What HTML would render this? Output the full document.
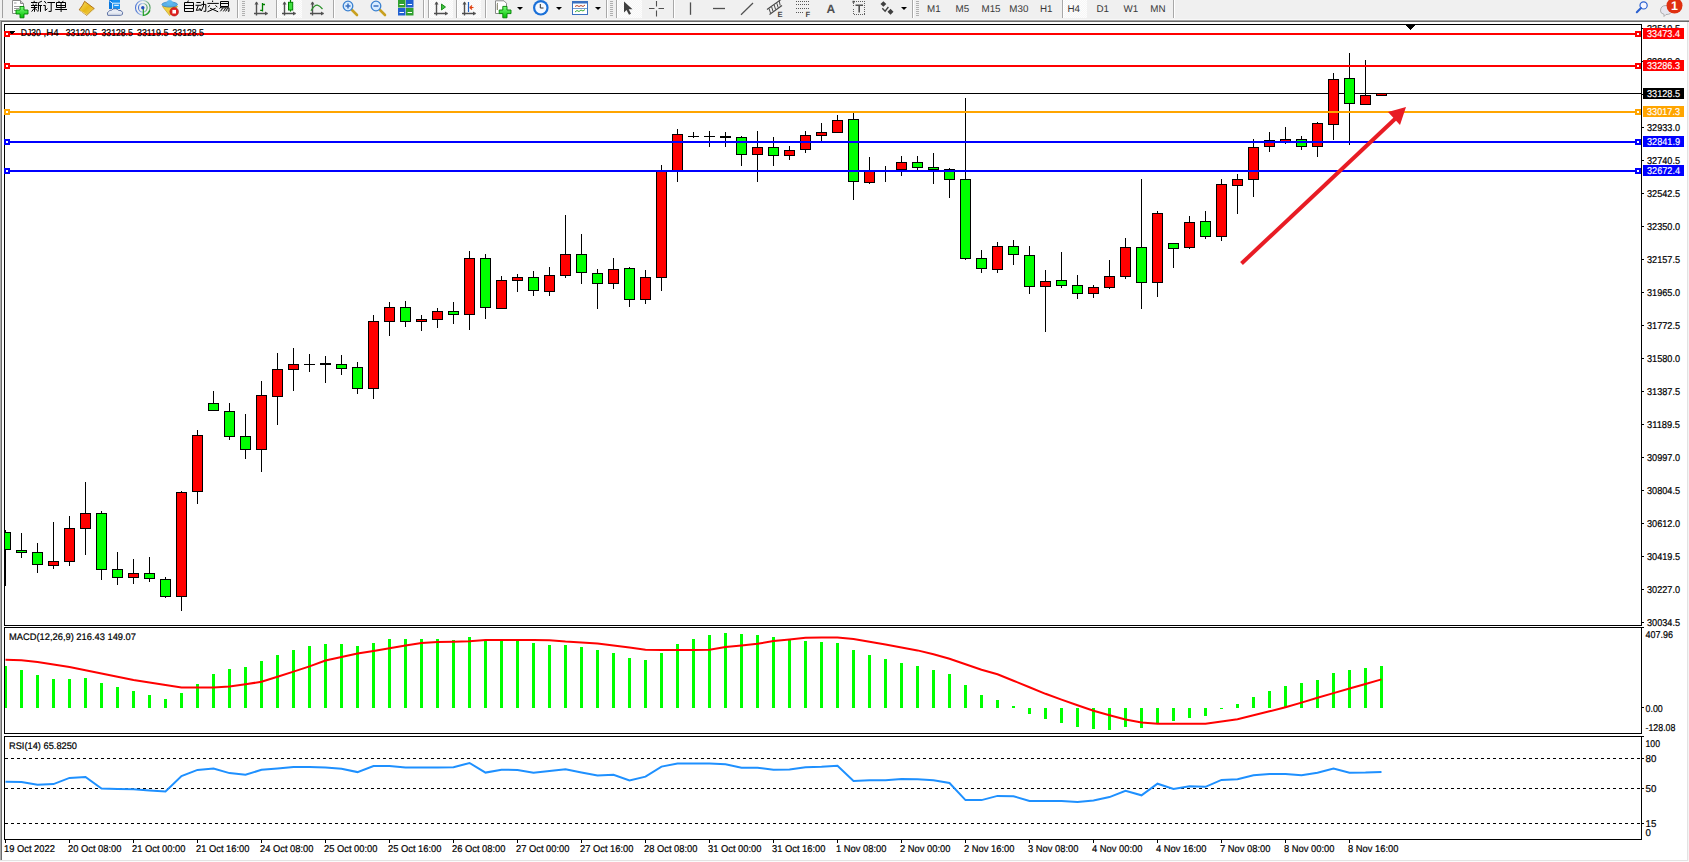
<!DOCTYPE html>
<html><head><meta charset="utf-8"><style>
html,body{margin:0;padding:0;background:#fff;}
body{width:1689px;height:862px;overflow:hidden;position:relative;font-family:"Liberation Sans",sans-serif;}
svg{position:absolute;left:0;top:0;display:block;}
text{text-rendering:geometricPrecision;}
.ch text{stroke:#000;stroke-width:0.2px;}
.ch text[fill="#fff"]{stroke:#fff;stroke-width:0.15px;}
</style></head><body>
<svg class="ch" width="1689" height="862" viewBox="0 0 1689 862" shape-rendering="crispEdges">
<defs>
<clipPath id="cm"><rect x="5" y="25" width="1636" height="600"/></clipPath>
<clipPath id="cd"><rect x="5" y="628" width="1636" height="105"/></clipPath>
<clipPath id="cr"><rect x="5" y="737" width="1636" height="102"/></clipPath>
</defs>
<!-- frame -->
<rect x="0" y="0" width="1689" height="862" fill="#fff"/>
<rect x="0" y="22" width="1" height="838" fill="#acacac"/>
<rect x="1" y="22" width="1" height="838" fill="#6c6c6c"/>
<rect x="1687" y="22" width="1" height="839" fill="#e3e3e3"/>
<rect x="1688" y="22" width="1" height="839" fill="#f4f4f4"/>
<rect x="0" y="860" width="1688" height="1" fill="#e3e3e3"/>
<rect x="0" y="861" width="1689" height="1" fill="#fbfbfb"/>
<!-- main window border -->
<rect x="4.5" y="24.5" width="1637" height="601" fill="none" stroke="#000"/>
<rect x="4.5" y="627.5" width="1637" height="106" fill="none" stroke="#000"/>
<rect x="4.5" y="736.5" width="1637" height="102.5" fill="none" stroke="#000"/>
<g clip-path="url(#cm)">
<rect x="5" y="93" width="1636" height="1" fill="#000"/>
<rect x="5" y="530" width="1" height="2" fill="#000"/>
<rect x="5" y="550" width="1" height="36" fill="#000"/>
<rect x="0.5" y="532.5" width="10" height="17" fill="#00ff00" stroke="#000" stroke-width="1"/>
<rect x="21" y="533" width="1" height="17" fill="#000"/>
<rect x="21" y="553" width="1" height="5" fill="#000"/>
<rect x="16.5" y="550.5" width="10" height="2" fill="#00ff00" stroke="#000" stroke-width="1"/>
<rect x="37" y="543" width="1" height="9" fill="#000"/>
<rect x="37" y="565" width="1" height="8" fill="#000"/>
<rect x="32.5" y="552.5" width="10" height="12" fill="#00ff00" stroke="#000" stroke-width="1"/>
<rect x="53" y="522" width="1" height="39" fill="#000"/>
<rect x="53" y="566" width="1" height="3" fill="#000"/>
<rect x="48.5" y="561.5" width="10" height="4" fill="#ff0000" stroke="#000" stroke-width="1"/>
<rect x="69" y="516" width="1" height="12" fill="#000"/>
<rect x="69" y="562" width="1" height="4" fill="#000"/>
<rect x="64.5" y="528.5" width="10" height="33" fill="#ff0000" stroke="#000" stroke-width="1"/>
<rect x="85" y="482" width="1" height="31" fill="#000"/>
<rect x="85" y="529" width="1" height="26" fill="#000"/>
<rect x="80.5" y="513.5" width="10" height="15" fill="#ff0000" stroke="#000" stroke-width="1"/>
<rect x="101" y="511" width="1" height="2" fill="#000"/>
<rect x="101" y="570" width="1" height="10" fill="#000"/>
<rect x="96.5" y="513.5" width="10" height="56" fill="#00ff00" stroke="#000" stroke-width="1"/>
<rect x="117" y="552" width="1" height="17" fill="#000"/>
<rect x="117" y="578" width="1" height="7" fill="#000"/>
<rect x="112.5" y="569.5" width="10" height="8" fill="#00ff00" stroke="#000" stroke-width="1"/>
<rect x="133" y="559" width="1" height="14" fill="#000"/>
<rect x="133" y="578" width="1" height="6" fill="#000"/>
<rect x="128.5" y="573.5" width="10" height="4" fill="#ff0000" stroke="#000" stroke-width="1"/>
<rect x="149" y="557" width="1" height="16" fill="#000"/>
<rect x="149" y="579" width="1" height="3" fill="#000"/>
<rect x="144.5" y="573.5" width="10" height="5" fill="#00ff00" stroke="#000" stroke-width="1"/>
<rect x="165" y="577" width="1" height="2" fill="#000"/>
<rect x="165" y="597" width="1" height="1" fill="#000"/>
<rect x="160.5" y="579.5" width="10" height="17" fill="#00ff00" stroke="#000" stroke-width="1"/>
<rect x="181" y="491" width="1" height="1" fill="#000"/>
<rect x="181" y="597" width="1" height="14" fill="#000"/>
<rect x="176.5" y="492.5" width="10" height="104" fill="#ff0000" stroke="#000" stroke-width="1"/>
<rect x="197" y="430" width="1" height="5" fill="#000"/>
<rect x="197" y="492" width="1" height="12" fill="#000"/>
<rect x="192.5" y="435.5" width="10" height="56" fill="#ff0000" stroke="#000" stroke-width="1"/>
<rect x="213" y="391" width="1" height="12" fill="#000"/>
<rect x="208.5" y="403.5" width="10" height="7" fill="#00ff00" stroke="#000" stroke-width="1"/>
<rect x="229" y="403" width="1" height="8" fill="#000"/>
<rect x="229" y="437" width="1" height="3" fill="#000"/>
<rect x="224.5" y="411.5" width="10" height="25" fill="#00ff00" stroke="#000" stroke-width="1"/>
<rect x="245" y="414" width="1" height="22" fill="#000"/>
<rect x="245" y="450" width="1" height="9" fill="#000"/>
<rect x="240.5" y="436.5" width="10" height="13" fill="#00ff00" stroke="#000" stroke-width="1"/>
<rect x="261" y="381" width="1" height="14" fill="#000"/>
<rect x="261" y="450" width="1" height="22" fill="#000"/>
<rect x="256.5" y="395.5" width="10" height="54" fill="#ff0000" stroke="#000" stroke-width="1"/>
<rect x="277" y="353" width="1" height="16" fill="#000"/>
<rect x="277" y="397" width="1" height="28" fill="#000"/>
<rect x="272.5" y="369.5" width="10" height="27" fill="#ff0000" stroke="#000" stroke-width="1"/>
<rect x="293" y="348" width="1" height="16" fill="#000"/>
<rect x="293" y="370" width="1" height="21" fill="#000"/>
<rect x="288.5" y="364.5" width="10" height="5" fill="#ff0000" stroke="#000" stroke-width="1"/>
<rect x="309" y="354" width="1" height="10" fill="#000"/>
<rect x="309" y="365" width="1" height="7" fill="#000"/>
<rect x="304" y="364" width="11" height="1" fill="#000"/>
<rect x="325" y="356" width="1" height="7" fill="#000"/>
<rect x="325" y="365" width="1" height="18" fill="#000"/>
<rect x="320" y="363" width="11" height="2" fill="#000"/>
<rect x="341" y="355" width="1" height="9" fill="#000"/>
<rect x="341" y="369" width="1" height="6" fill="#000"/>
<rect x="336.5" y="364.5" width="10" height="4" fill="#00ff00" stroke="#000" stroke-width="1"/>
<rect x="357" y="362" width="1" height="5" fill="#000"/>
<rect x="357" y="389" width="1" height="5" fill="#000"/>
<rect x="352.5" y="367.5" width="10" height="21" fill="#00ff00" stroke="#000" stroke-width="1"/>
<rect x="373" y="315" width="1" height="6" fill="#000"/>
<rect x="373" y="389" width="1" height="10" fill="#000"/>
<rect x="368.5" y="321.5" width="10" height="67" fill="#ff0000" stroke="#000" stroke-width="1"/>
<rect x="389" y="302" width="1" height="5" fill="#000"/>
<rect x="389" y="322" width="1" height="14" fill="#000"/>
<rect x="384.5" y="307.5" width="10" height="14" fill="#ff0000" stroke="#000" stroke-width="1"/>
<rect x="405" y="301" width="1" height="6" fill="#000"/>
<rect x="405" y="322" width="1" height="5" fill="#000"/>
<rect x="400.5" y="307.5" width="10" height="14" fill="#00ff00" stroke="#000" stroke-width="1"/>
<rect x="421" y="315" width="1" height="4" fill="#000"/>
<rect x="421" y="322" width="1" height="9" fill="#000"/>
<rect x="416.5" y="319.5" width="10" height="2" fill="#ff0000" stroke="#000" stroke-width="1"/>
<rect x="437" y="308" width="1" height="3" fill="#000"/>
<rect x="437" y="320" width="1" height="8" fill="#000"/>
<rect x="432.5" y="311.5" width="10" height="8" fill="#ff0000" stroke="#000" stroke-width="1"/>
<rect x="453" y="302" width="1" height="9" fill="#000"/>
<rect x="453" y="315" width="1" height="9" fill="#000"/>
<rect x="448.5" y="311.5" width="10" height="3" fill="#00ff00" stroke="#000" stroke-width="1"/>
<rect x="469" y="251" width="1" height="7" fill="#000"/>
<rect x="469" y="315" width="1" height="15" fill="#000"/>
<rect x="464.5" y="258.5" width="10" height="56" fill="#ff0000" stroke="#000" stroke-width="1"/>
<rect x="485" y="254" width="1" height="4" fill="#000"/>
<rect x="485" y="308" width="1" height="11" fill="#000"/>
<rect x="480.5" y="258.5" width="10" height="49" fill="#00ff00" stroke="#000" stroke-width="1"/>
<rect x="501" y="276" width="1" height="4" fill="#000"/>
<rect x="496.5" y="280.5" width="10" height="28" fill="#ff0000" stroke="#000" stroke-width="1"/>
<rect x="517" y="274" width="1" height="3" fill="#000"/>
<rect x="517" y="281" width="1" height="11" fill="#000"/>
<rect x="512.5" y="277.5" width="10" height="3" fill="#ff0000" stroke="#000" stroke-width="1"/>
<rect x="533" y="271" width="1" height="6" fill="#000"/>
<rect x="533" y="291" width="1" height="5" fill="#000"/>
<rect x="528.5" y="277.5" width="10" height="13" fill="#00ff00" stroke="#000" stroke-width="1"/>
<rect x="549" y="267" width="1" height="8" fill="#000"/>
<rect x="549" y="292" width="1" height="4" fill="#000"/>
<rect x="544.5" y="275.5" width="10" height="16" fill="#ff0000" stroke="#000" stroke-width="1"/>
<rect x="565" y="215" width="1" height="39" fill="#000"/>
<rect x="565" y="276" width="1" height="2" fill="#000"/>
<rect x="560.5" y="254.5" width="10" height="21" fill="#ff0000" stroke="#000" stroke-width="1"/>
<rect x="581" y="234" width="1" height="20" fill="#000"/>
<rect x="581" y="273" width="1" height="11" fill="#000"/>
<rect x="576.5" y="254.5" width="10" height="18" fill="#00ff00" stroke="#000" stroke-width="1"/>
<rect x="597" y="269" width="1" height="4" fill="#000"/>
<rect x="597" y="284" width="1" height="25" fill="#000"/>
<rect x="592.5" y="273.5" width="10" height="10" fill="#00ff00" stroke="#000" stroke-width="1"/>
<rect x="613" y="258" width="1" height="11" fill="#000"/>
<rect x="613" y="284" width="1" height="5" fill="#000"/>
<rect x="608.5" y="269.5" width="10" height="14" fill="#ff0000" stroke="#000" stroke-width="1"/>
<rect x="629" y="267" width="1" height="1" fill="#000"/>
<rect x="629" y="300" width="1" height="7" fill="#000"/>
<rect x="624.5" y="268.5" width="10" height="31" fill="#00ff00" stroke="#000" stroke-width="1"/>
<rect x="645" y="270" width="1" height="7" fill="#000"/>
<rect x="645" y="300" width="1" height="4" fill="#000"/>
<rect x="640.5" y="277.5" width="10" height="22" fill="#ff0000" stroke="#000" stroke-width="1"/>
<rect x="661" y="165" width="1" height="6" fill="#000"/>
<rect x="661" y="278" width="1" height="13" fill="#000"/>
<rect x="656.5" y="171.5" width="10" height="106" fill="#ff0000" stroke="#000" stroke-width="1"/>
<rect x="677" y="129" width="1" height="5" fill="#000"/>
<rect x="677" y="171" width="1" height="11" fill="#000"/>
<rect x="672.5" y="134.5" width="10" height="36" fill="#ff0000" stroke="#000" stroke-width="1"/>
<rect x="693" y="132" width="1" height="4" fill="#000"/>
<rect x="693" y="137" width="1" height="1" fill="#000"/>
<rect x="688" y="136" width="11" height="1" fill="#000"/>
<rect x="709" y="131" width="1" height="5" fill="#000"/>
<rect x="709" y="137" width="1" height="10" fill="#000"/>
<rect x="704" y="136" width="11" height="1" fill="#000"/>
<rect x="725" y="132" width="1" height="4" fill="#000"/>
<rect x="725" y="138" width="1" height="9" fill="#000"/>
<rect x="720" y="136" width="11" height="2" fill="#000"/>
<rect x="741" y="136" width="1" height="1" fill="#000"/>
<rect x="741" y="155" width="1" height="11" fill="#000"/>
<rect x="736.5" y="137.5" width="10" height="17" fill="#00ff00" stroke="#000" stroke-width="1"/>
<rect x="757" y="131" width="1" height="16" fill="#000"/>
<rect x="757" y="155" width="1" height="27" fill="#000"/>
<rect x="752.5" y="147.5" width="10" height="7" fill="#ff0000" stroke="#000" stroke-width="1"/>
<rect x="773" y="137" width="1" height="10" fill="#000"/>
<rect x="773" y="156" width="1" height="10" fill="#000"/>
<rect x="768.5" y="147.5" width="10" height="8" fill="#00ff00" stroke="#000" stroke-width="1"/>
<rect x="789" y="146" width="1" height="4" fill="#000"/>
<rect x="789" y="156" width="1" height="4" fill="#000"/>
<rect x="784.5" y="150.5" width="10" height="5" fill="#ff0000" stroke="#000" stroke-width="1"/>
<rect x="805" y="131" width="1" height="4" fill="#000"/>
<rect x="805" y="150" width="1" height="3" fill="#000"/>
<rect x="800.5" y="135.5" width="10" height="14" fill="#ff0000" stroke="#000" stroke-width="1"/>
<rect x="821" y="123" width="1" height="9" fill="#000"/>
<rect x="821" y="136" width="1" height="6" fill="#000"/>
<rect x="816.5" y="132.5" width="10" height="3" fill="#ff0000" stroke="#000" stroke-width="1"/>
<rect x="837" y="115" width="1" height="5" fill="#000"/>
<rect x="832.5" y="120.5" width="10" height="12" fill="#ff0000" stroke="#000" stroke-width="1"/>
<rect x="853" y="113" width="1" height="6" fill="#000"/>
<rect x="853" y="182" width="1" height="18" fill="#000"/>
<rect x="848.5" y="119.5" width="10" height="62" fill="#00ff00" stroke="#000" stroke-width="1"/>
<rect x="869" y="157" width="1" height="14" fill="#000"/>
<rect x="869" y="183" width="1" height="1" fill="#000"/>
<rect x="864.5" y="171.5" width="10" height="11" fill="#ff0000" stroke="#000" stroke-width="1"/>
<rect x="885" y="166" width="1" height="5" fill="#000"/>
<rect x="885" y="172" width="1" height="10" fill="#000"/>
<rect x="880" y="171" width="11" height="1" fill="#000"/>
<rect x="901" y="156" width="1" height="6" fill="#000"/>
<rect x="901" y="170" width="1" height="6" fill="#000"/>
<rect x="896.5" y="162.5" width="10" height="7" fill="#ff0000" stroke="#000" stroke-width="1"/>
<rect x="917" y="156" width="1" height="6" fill="#000"/>
<rect x="917" y="168" width="1" height="2" fill="#000"/>
<rect x="912.5" y="162.5" width="10" height="5" fill="#00ff00" stroke="#000" stroke-width="1"/>
<rect x="933" y="153" width="1" height="14" fill="#000"/>
<rect x="933" y="170" width="1" height="14" fill="#000"/>
<rect x="928.5" y="167.5" width="10" height="2" fill="#00ff00" stroke="#000" stroke-width="1"/>
<rect x="949" y="168" width="1" height="1" fill="#000"/>
<rect x="949" y="180" width="1" height="18" fill="#000"/>
<rect x="944.5" y="169.5" width="10" height="10" fill="#00ff00" stroke="#000" stroke-width="1"/>
<rect x="965" y="98" width="1" height="81" fill="#000"/>
<rect x="965" y="259" width="1" height="1" fill="#000"/>
<rect x="960.5" y="179.5" width="10" height="79" fill="#00ff00" stroke="#000" stroke-width="1"/>
<rect x="981" y="250" width="1" height="8" fill="#000"/>
<rect x="981" y="269" width="1" height="4" fill="#000"/>
<rect x="976.5" y="258.5" width="10" height="10" fill="#00ff00" stroke="#000" stroke-width="1"/>
<rect x="997" y="242" width="1" height="4" fill="#000"/>
<rect x="997" y="270" width="1" height="3" fill="#000"/>
<rect x="992.5" y="246.5" width="10" height="23" fill="#ff0000" stroke="#000" stroke-width="1"/>
<rect x="1013" y="240" width="1" height="6" fill="#000"/>
<rect x="1013" y="255" width="1" height="10" fill="#000"/>
<rect x="1008.5" y="246.5" width="10" height="8" fill="#00ff00" stroke="#000" stroke-width="1"/>
<rect x="1029" y="246" width="1" height="9" fill="#000"/>
<rect x="1029" y="287" width="1" height="7" fill="#000"/>
<rect x="1024.5" y="255.5" width="10" height="31" fill="#00ff00" stroke="#000" stroke-width="1"/>
<rect x="1045" y="270" width="1" height="11" fill="#000"/>
<rect x="1045" y="287" width="1" height="45" fill="#000"/>
<rect x="1040.5" y="281.5" width="10" height="5" fill="#ff0000" stroke="#000" stroke-width="1"/>
<rect x="1061" y="252" width="1" height="28" fill="#000"/>
<rect x="1061" y="286" width="1" height="2" fill="#000"/>
<rect x="1056.5" y="280.5" width="10" height="5" fill="#00ff00" stroke="#000" stroke-width="1"/>
<rect x="1077" y="275" width="1" height="10" fill="#000"/>
<rect x="1077" y="294" width="1" height="5" fill="#000"/>
<rect x="1072.5" y="285.5" width="10" height="8" fill="#00ff00" stroke="#000" stroke-width="1"/>
<rect x="1093" y="285" width="1" height="2" fill="#000"/>
<rect x="1093" y="294" width="1" height="4" fill="#000"/>
<rect x="1088.5" y="287.5" width="10" height="6" fill="#ff0000" stroke="#000" stroke-width="1"/>
<rect x="1109" y="260" width="1" height="16" fill="#000"/>
<rect x="1109" y="288" width="1" height="1" fill="#000"/>
<rect x="1104.5" y="276.5" width="10" height="11" fill="#ff0000" stroke="#000" stroke-width="1"/>
<rect x="1125" y="238" width="1" height="9" fill="#000"/>
<rect x="1125" y="277" width="1" height="2" fill="#000"/>
<rect x="1120.5" y="247.5" width="10" height="29" fill="#ff0000" stroke="#000" stroke-width="1"/>
<rect x="1141" y="179" width="1" height="68" fill="#000"/>
<rect x="1141" y="283" width="1" height="26" fill="#000"/>
<rect x="1136.5" y="247.5" width="10" height="35" fill="#00ff00" stroke="#000" stroke-width="1"/>
<rect x="1157" y="211" width="1" height="2" fill="#000"/>
<rect x="1157" y="283" width="1" height="14" fill="#000"/>
<rect x="1152.5" y="213.5" width="10" height="69" fill="#ff0000" stroke="#000" stroke-width="1"/>
<rect x="1173" y="249" width="1" height="19" fill="#000"/>
<rect x="1168.5" y="243.5" width="10" height="5" fill="#00ff00" stroke="#000" stroke-width="1"/>
<rect x="1189" y="216" width="1" height="6" fill="#000"/>
<rect x="1189" y="248" width="1" height="1" fill="#000"/>
<rect x="1184.5" y="222.5" width="10" height="25" fill="#ff0000" stroke="#000" stroke-width="1"/>
<rect x="1205" y="211" width="1" height="10" fill="#000"/>
<rect x="1205" y="237" width="1" height="2" fill="#000"/>
<rect x="1200.5" y="221.5" width="10" height="15" fill="#00ff00" stroke="#000" stroke-width="1"/>
<rect x="1221" y="179" width="1" height="5" fill="#000"/>
<rect x="1221" y="237" width="1" height="4" fill="#000"/>
<rect x="1216.5" y="184.5" width="10" height="52" fill="#ff0000" stroke="#000" stroke-width="1"/>
<rect x="1237" y="174" width="1" height="5" fill="#000"/>
<rect x="1237" y="186" width="1" height="28" fill="#000"/>
<rect x="1232.5" y="179.5" width="10" height="6" fill="#ff0000" stroke="#000" stroke-width="1"/>
<rect x="1253" y="139" width="1" height="8" fill="#000"/>
<rect x="1253" y="180" width="1" height="17" fill="#000"/>
<rect x="1248.5" y="147.5" width="10" height="32" fill="#ff0000" stroke="#000" stroke-width="1"/>
<rect x="1269" y="132" width="1" height="8" fill="#000"/>
<rect x="1269" y="147" width="1" height="5" fill="#000"/>
<rect x="1264.5" y="140.5" width="10" height="6" fill="#ff0000" stroke="#000" stroke-width="1"/>
<rect x="1285" y="127" width="1" height="12" fill="#000"/>
<rect x="1285" y="142" width="1" height="2" fill="#000"/>
<rect x="1280.5" y="139.5" width="10" height="2" fill="#ff0000" stroke="#000" stroke-width="1"/>
<rect x="1301" y="136" width="1" height="3" fill="#000"/>
<rect x="1301" y="147" width="1" height="3" fill="#000"/>
<rect x="1296.5" y="139.5" width="10" height="7" fill="#00ff00" stroke="#000" stroke-width="1"/>
<rect x="1317" y="122" width="1" height="1" fill="#000"/>
<rect x="1317" y="147" width="1" height="10" fill="#000"/>
<rect x="1312.5" y="123.5" width="10" height="23" fill="#ff0000" stroke="#000" stroke-width="1"/>
<rect x="1333" y="73" width="1" height="6" fill="#000"/>
<rect x="1333" y="125" width="1" height="15" fill="#000"/>
<rect x="1328.5" y="79.5" width="10" height="45" fill="#ff0000" stroke="#000" stroke-width="1"/>
<rect x="1349" y="53" width="1" height="25" fill="#000"/>
<rect x="1349" y="104" width="1" height="41" fill="#000"/>
<rect x="1344.5" y="78.5" width="10" height="25" fill="#00ff00" stroke="#000" stroke-width="1"/>
<rect x="1365" y="60" width="1" height="35" fill="#000"/>
<rect x="1360.5" y="95.5" width="10" height="9" fill="#ff0000" stroke="#000" stroke-width="1"/>
<rect x="1376.5" y="93.5" width="10" height="2" fill="#ff0000" stroke="#000" stroke-width="1"/>
<rect x="5" y="33" width="1636" height="2" fill="#ff0000"/>
<rect x="5" y="65" width="1636" height="2" fill="#ff0000"/>
<rect x="5" y="111" width="1636" height="2" fill="#ffa500"/>
<rect x="5" y="141" width="1636" height="2" fill="#0000ff"/>
<rect x="5" y="170" width="1636" height="2" fill="#0000ff"/>
<polygon points="1405.5,25 1415.5,25 1410.5,30" fill="#000"/>
<line x1="1241.5" y1="263.5" x2="1396" y2="118" stroke="#e81c24" stroke-width="4" shape-rendering="auto"/>
<polygon points="1388,112 1406,107 1400,125" fill="#e81c24" shape-rendering="auto"/>
</g>
<polygon points="9,31 15.5,31 12.25,34.5" fill="#000"/>
<g font-family="Liberation Sans, sans-serif" font-size="9.9">
<text x="20.8" y="36" textLength="20" lengthAdjust="spacingAndGlyphs">DJ30</text>
<text x="43.6" y="36" textLength="15" lengthAdjust="spacingAndGlyphs">,H4</text>
<text x="65.8" y="36" textLength="31.3" lengthAdjust="spacingAndGlyphs">33120.5</text>
<text x="101.5" y="36" textLength="31.3" lengthAdjust="spacingAndGlyphs">33128.5</text>
<text x="137" y="36" textLength="31.3" lengthAdjust="spacingAndGlyphs">33119.5</text>
<text x="172.5" y="36" textLength="31.3" lengthAdjust="spacingAndGlyphs">33128.5</text>
</g>
<g font-family="Liberation Sans, sans-serif" font-size="9.9" fill="#000">
<rect x="1642" y="28" width="2" height="1"/>
<text x="1647" y="32" textLength="33" lengthAdjust="spacingAndGlyphs">33510.5</text>
<rect x="1642" y="61" width="2" height="1"/>
<text x="1647" y="65" textLength="33" lengthAdjust="spacingAndGlyphs">33318.0</text>
<rect x="1642" y="94" width="2" height="1"/>
<text x="1647" y="98" textLength="33" lengthAdjust="spacingAndGlyphs">33125.5</text>
<rect x="1642" y="127" width="2" height="1"/>
<text x="1647" y="131" textLength="33" lengthAdjust="spacingAndGlyphs">32933.0</text>
<rect x="1642" y="160" width="2" height="1"/>
<text x="1647" y="164" textLength="33" lengthAdjust="spacingAndGlyphs">32740.5</text>
<rect x="1642" y="193" width="2" height="1"/>
<text x="1647" y="197" textLength="33" lengthAdjust="spacingAndGlyphs">32542.5</text>
<rect x="1642" y="226" width="2" height="1"/>
<text x="1647" y="230" textLength="33" lengthAdjust="spacingAndGlyphs">32350.0</text>
<rect x="1642" y="259" width="2" height="1"/>
<text x="1647" y="263" textLength="33" lengthAdjust="spacingAndGlyphs">32157.5</text>
<rect x="1642" y="292" width="2" height="1"/>
<text x="1647" y="296" textLength="33" lengthAdjust="spacingAndGlyphs">31965.0</text>
<rect x="1642" y="325" width="2" height="1"/>
<text x="1647" y="329" textLength="33" lengthAdjust="spacingAndGlyphs">31772.5</text>
<rect x="1642" y="358" width="2" height="1"/>
<text x="1647" y="362" textLength="33" lengthAdjust="spacingAndGlyphs">31580.0</text>
<rect x="1642" y="391" width="2" height="1"/>
<text x="1647" y="395" textLength="33" lengthAdjust="spacingAndGlyphs">31387.5</text>
<rect x="1642" y="424" width="2" height="1"/>
<text x="1647" y="428" textLength="33" lengthAdjust="spacingAndGlyphs">31189.5</text>
<rect x="1642" y="457" width="2" height="1"/>
<text x="1647" y="461" textLength="33" lengthAdjust="spacingAndGlyphs">30997.0</text>
<rect x="1642" y="490" width="2" height="1"/>
<text x="1647" y="494" textLength="33" lengthAdjust="spacingAndGlyphs">30804.5</text>
<rect x="1642" y="523" width="2" height="1"/>
<text x="1647" y="527" textLength="33" lengthAdjust="spacingAndGlyphs">30612.0</text>
<rect x="1642" y="556" width="2" height="1"/>
<text x="1647" y="560" textLength="33" lengthAdjust="spacingAndGlyphs">30419.5</text>
<rect x="1642" y="589" width="2" height="1"/>
<text x="1647" y="593" textLength="33" lengthAdjust="spacingAndGlyphs">30227.0</text>
<rect x="1642" y="622" width="2" height="1"/>
<text x="1647" y="626" textLength="33" lengthAdjust="spacingAndGlyphs">30034.5</text>
</g>
<g font-family="Liberation Sans, sans-serif" font-size="9.9">
<rect x="4" y="31" width="6" height="6" fill="#ff0000"/><rect x="6" y="33" width="2" height="2" fill="#fff"/>
<rect x="1635" y="31" width="6" height="6" fill="#ff0000"/><rect x="1637" y="33" width="2" height="2" fill="#fff"/>
<rect x="1643" y="28" width="41" height="11" fill="#ff0000"/>
<text x="1647" y="37" fill="#fff" textLength="33" lengthAdjust="spacingAndGlyphs">33473.4</text>
<rect x="4" y="63" width="6" height="6" fill="#ff0000"/><rect x="6" y="65" width="2" height="2" fill="#fff"/>
<rect x="1635" y="63" width="6" height="6" fill="#ff0000"/><rect x="1637" y="65" width="2" height="2" fill="#fff"/>
<rect x="1643" y="60" width="41" height="11" fill="#ff0000"/>
<text x="1647" y="69" fill="#fff" textLength="33" lengthAdjust="spacingAndGlyphs">33286.3</text>
<rect x="1643" y="88" width="41" height="11" fill="#000"/>
<text x="1647" y="97" fill="#fff" textLength="33" lengthAdjust="spacingAndGlyphs">33128.5</text>
<rect x="4" y="109" width="6" height="6" fill="#ffa500"/><rect x="6" y="111" width="2" height="2" fill="#fff"/>
<rect x="1635" y="109" width="6" height="6" fill="#ffa500"/><rect x="1637" y="111" width="2" height="2" fill="#fff"/>
<rect x="1643" y="106" width="41" height="11" fill="#ffa500"/>
<text x="1647" y="115" fill="#fff" textLength="33" lengthAdjust="spacingAndGlyphs">33017.3</text>
<rect x="4" y="139" width="6" height="6" fill="#0000ff"/><rect x="6" y="141" width="2" height="2" fill="#fff"/>
<rect x="1635" y="139" width="6" height="6" fill="#0000ff"/><rect x="1637" y="141" width="2" height="2" fill="#fff"/>
<rect x="1643" y="136" width="41" height="11" fill="#0000ff"/>
<text x="1647" y="145" fill="#fff" textLength="33" lengthAdjust="spacingAndGlyphs">32841.9</text>
<rect x="4" y="168" width="6" height="6" fill="#0000ff"/><rect x="6" y="170" width="2" height="2" fill="#fff"/>
<rect x="1635" y="168" width="6" height="6" fill="#0000ff"/><rect x="1637" y="170" width="2" height="2" fill="#fff"/>
<rect x="1643" y="165" width="41" height="11" fill="#0000ff"/>
<text x="1647" y="174" fill="#fff" textLength="33" lengthAdjust="spacingAndGlyphs">32672.4</text>
</g>
<g clip-path="url(#cd)">
<g fill="#00ff00">
<rect x="4" y="666" width="3" height="42"/>
<rect x="20" y="670" width="3" height="38"/>
<rect x="36" y="675" width="3" height="33"/>
<rect x="52" y="679" width="3" height="29"/>
<rect x="68" y="679" width="3" height="29"/>
<rect x="84" y="678" width="3" height="30"/>
<rect x="100" y="683" width="3" height="25"/>
<rect x="116" y="687" width="3" height="21"/>
<rect x="132" y="691" width="3" height="17"/>
<rect x="148" y="695" width="3" height="13"/>
<rect x="164" y="699" width="3" height="9"/>
<rect x="180" y="693" width="3" height="15"/>
<rect x="196" y="684" width="3" height="24"/>
<rect x="212" y="674" width="3" height="34"/>
<rect x="228" y="669" width="3" height="39"/>
<rect x="244" y="667" width="3" height="41"/>
<rect x="260" y="661" width="3" height="47"/>
<rect x="276" y="655" width="3" height="53"/>
<rect x="292" y="650" width="3" height="58"/>
<rect x="308" y="646" width="3" height="62"/>
<rect x="324" y="644" width="3" height="64"/>
<rect x="340" y="644" width="3" height="64"/>
<rect x="356" y="646" width="3" height="62"/>
<rect x="372" y="643" width="3" height="65"/>
<rect x="388" y="639" width="3" height="69"/>
<rect x="404" y="639" width="3" height="69"/>
<rect x="420" y="639" width="3" height="69"/>
<rect x="436" y="639" width="3" height="69"/>
<rect x="452" y="640" width="3" height="68"/>
<rect x="468" y="637" width="3" height="71"/>
<rect x="484" y="641" width="3" height="67"/>
<rect x="500" y="641" width="3" height="67"/>
<rect x="516" y="641" width="3" height="67"/>
<rect x="532" y="643" width="3" height="65"/>
<rect x="548" y="645" width="3" height="63"/>
<rect x="564" y="645" width="3" height="63"/>
<rect x="580" y="647" width="3" height="61"/>
<rect x="596" y="650" width="3" height="58"/>
<rect x="612" y="653" width="3" height="55"/>
<rect x="628" y="658" width="3" height="50"/>
<rect x="644" y="660" width="3" height="48"/>
<rect x="660" y="653" width="3" height="55"/>
<rect x="676" y="644" width="3" height="64"/>
<rect x="692" y="639" width="3" height="69"/>
<rect x="708" y="635" width="3" height="73"/>
<rect x="724" y="633" width="3" height="75"/>
<rect x="740" y="634" width="3" height="74"/>
<rect x="756" y="635" width="3" height="73"/>
<rect x="772" y="637" width="3" height="71"/>
<rect x="788" y="640" width="3" height="68"/>
<rect x="804" y="641" width="3" height="67"/>
<rect x="820" y="642" width="3" height="66"/>
<rect x="836" y="643" width="3" height="65"/>
<rect x="852" y="650" width="3" height="58"/>
<rect x="868" y="655" width="3" height="53"/>
<rect x="884" y="659" width="3" height="49"/>
<rect x="900" y="663" width="3" height="45"/>
<rect x="916" y="666" width="3" height="42"/>
<rect x="932" y="670" width="3" height="38"/>
<rect x="948" y="674" width="3" height="34"/>
<rect x="964" y="685" width="3" height="23"/>
<rect x="980" y="695" width="3" height="13"/>
<rect x="996" y="700" width="3" height="8"/>
<rect x="1012" y="706" width="3" height="2"/>
<rect x="1028" y="708" width="3" height="6"/>
<rect x="1044" y="708" width="3" height="11"/>
<rect x="1060" y="708" width="3" height="15"/>
<rect x="1076" y="708" width="3" height="19"/>
<rect x="1092" y="708" width="3" height="21"/>
<rect x="1108" y="708" width="3" height="22"/>
<rect x="1124" y="708" width="3" height="19"/>
<rect x="1140" y="708" width="3" height="20"/>
<rect x="1156" y="708" width="3" height="15"/>
<rect x="1172" y="708" width="3" height="13"/>
<rect x="1188" y="708" width="3" height="10"/>
<rect x="1204" y="708" width="3" height="8"/>
<rect x="1220" y="708" width="3" height="1"/>
<rect x="1236" y="704" width="3" height="4"/>
<rect x="1252" y="697" width="3" height="11"/>
<rect x="1268" y="691" width="3" height="17"/>
<rect x="1284" y="686" width="3" height="22"/>
<rect x="1300" y="683" width="3" height="25"/>
<rect x="1316" y="680" width="3" height="28"/>
<rect x="1332" y="673" width="3" height="35"/>
<rect x="1348" y="670" width="3" height="38"/>
<rect x="1364" y="668" width="3" height="40"/>
<rect x="1380" y="666" width="3" height="42"/>
</g>
<polyline points="5.5,659.8 21.5,660.2 37.5,662.1 53.5,664.5 69.5,666.9 85.5,670.2 101.5,673.5 117.5,676.7 133.5,679.9 149.5,682.5 165.5,685.0 181.5,687.6 197.5,687.6 213.5,687.5 229.5,686.5 245.5,684.2 261.5,681.8 277.5,676.7 293.5,671.6 309.5,666.4 325.5,660.5 341.5,657.0 357.5,653.6 373.5,650.9 389.5,648.2 405.5,645.5 421.5,642.9 437.5,642.1 453.5,641.7 469.5,641.2 485.5,640.1 501.5,640.0 517.5,640.0 533.5,640.0 549.5,640.2 565.5,641.6 581.5,642.4 597.5,643.6 613.5,645.5 629.5,647.5 645.5,649.8 661.5,649.9 677.5,649.9 693.5,649.9 709.5,649.7 725.5,647.1 741.5,645.4 757.5,643.8 773.5,641.1 789.5,639.4 805.5,637.7 821.5,637.4 837.5,637.4 853.5,638.9 869.5,641.8 885.5,644.6 901.5,647.5 917.5,650.4 933.5,654.3 949.5,658.8 965.5,664.3 981.5,669.8 997.5,674.3 1013.5,680.7 1029.5,687.2 1045.5,693.8 1061.5,699.6 1077.5,705.2 1093.5,710.8 1109.5,715.2 1125.5,719.4 1141.5,722.4 1157.5,723.7 1173.5,723.7 1189.5,723.7 1205.5,723.7 1221.5,721.5 1237.5,719.3 1253.5,715.3 1269.5,711.3 1285.5,707.3 1301.5,702.6 1317.5,697.8 1333.5,693.1 1349.5,688.5 1365.5,684.0 1381.5,679.4" fill="none" stroke="#ff0000" stroke-width="2" shape-rendering="auto"/>
</g>
<text x="9" y="640" font-family="Liberation Sans, sans-serif" font-size="9.5" textLength="127" lengthAdjust="spacingAndGlyphs">MACD(12,26,9) 216.43 149.07</text>
<g font-family="Liberation Sans, sans-serif" font-size="9.9">
<rect x="1642" y="627" width="2" height="1"/><text x="1645.5" y="638" textLength="27.4" lengthAdjust="spacingAndGlyphs">407.96</text>
<rect x="1642" y="707" width="2" height="1"/><text x="1645.5" y="712" textLength="17.3" lengthAdjust="spacingAndGlyphs">0.00</text>
<text x="1645.5" y="731" textLength="29.9" lengthAdjust="spacingAndGlyphs">-128.08</text>
</g>
<g clip-path="url(#cr)">
<g fill="none" stroke="#000" stroke-width="1" stroke-dasharray="3,3">
<line x1="5" y1="758.5" x2="1641" y2="758.5"/>
<line x1="5" y1="788.5" x2="1641" y2="788.5"/>
<line x1="5" y1="823.5" x2="1641" y2="823.5"/>
</g>
<polyline points="5.5,781.7 21.5,782.1 37.5,784.7 53.5,784.1 69.5,777.9 85.5,776.9 101.5,788.6 117.5,789.0 133.5,789.3 149.5,790.5 165.5,791.5 181.5,776.0 197.5,769.9 213.5,768.5 229.5,773.1 245.5,774.8 261.5,769.8 277.5,768.4 293.5,767.0 309.5,767.0 325.5,767.5 341.5,768.7 357.5,772.1 373.5,766.0 389.5,766.0 405.5,767.5 421.5,767.4 437.5,767.4 453.5,767.3 469.5,763.0 485.5,772.6 501.5,769.8 517.5,769.9 533.5,772.8 549.5,771.0 565.5,769.3 581.5,772.6 597.5,775.6 613.5,774.8 629.5,780.4 645.5,776.6 661.5,766.6 677.5,763.6 693.5,763.6 709.5,763.6 725.5,764.2 741.5,767.8 757.5,767.8 773.5,769.8 789.5,769.6 805.5,767.2 821.5,766.8 837.5,765.8 853.5,781.0 869.5,780.2 885.5,780.2 901.5,779.0 917.5,779.3 933.5,780.2 949.5,783.0 965.5,800.1 981.5,800.1 997.5,795.9 1013.5,796.2 1029.5,800.9 1045.5,800.9 1061.5,801.1 1077.5,802.1 1093.5,800.4 1109.5,797.1 1125.5,790.7 1141.5,795.3 1157.5,783.7 1173.5,788.9 1189.5,786.3 1205.5,786.8 1221.5,779.9 1237.5,779.2 1253.5,775.3 1269.5,774.0 1285.5,774.0 1301.5,775.3 1317.5,772.8 1333.5,768.6 1349.5,772.8 1365.5,772.6 1381.5,772.0" fill="none" stroke="#1e90ff" stroke-width="2" shape-rendering="auto"/>
</g>
<text x="9" y="749" font-family="Liberation Sans, sans-serif" font-size="9.5" textLength="68" lengthAdjust="spacingAndGlyphs">RSI(14) 65.8250</text>
<g font-family="Liberation Sans, sans-serif" font-size="9.9">
<rect x="1642" y="736" width="2" height="1"/><text x="1645.5" y="747" textLength="14.5" lengthAdjust="spacingAndGlyphs">100</text>
<rect x="1642" y="758" width="2" height="1"/><text x="1645.5" y="762" textLength="10.8" lengthAdjust="spacingAndGlyphs">80</text>
<rect x="1642" y="788" width="2" height="1"/><text x="1645.5" y="792" textLength="10.8" lengthAdjust="spacingAndGlyphs">50</text>
<rect x="1642" y="823" width="2" height="1"/><text x="1645.5" y="827" textLength="10.8" lengthAdjust="spacingAndGlyphs">15</text>
<text x="1645.5" y="836" textLength="5.4" lengthAdjust="spacingAndGlyphs">0</text>
</g>
<g font-family="Liberation Sans, sans-serif" font-size="9.9">
<rect x="5" y="840" width="1" height="3"/>
<text x="4" y="852" textLength="50.9" lengthAdjust="spacingAndGlyphs">19 Oct 2022</text>
<rect x="69" y="840" width="1" height="3"/>
<text x="68" y="852" textLength="53.5" lengthAdjust="spacingAndGlyphs">20 Oct 08:00</text>
<rect x="133" y="840" width="1" height="3"/>
<text x="132" y="852" textLength="53.5" lengthAdjust="spacingAndGlyphs">21 Oct 00:00</text>
<rect x="197" y="840" width="1" height="3"/>
<text x="196" y="852" textLength="53.5" lengthAdjust="spacingAndGlyphs">21 Oct 16:00</text>
<rect x="261" y="840" width="1" height="3"/>
<text x="260" y="852" textLength="53.5" lengthAdjust="spacingAndGlyphs">24 Oct 08:00</text>
<rect x="325" y="840" width="1" height="3"/>
<text x="324" y="852" textLength="53.5" lengthAdjust="spacingAndGlyphs">25 Oct 00:00</text>
<rect x="389" y="840" width="1" height="3"/>
<text x="388" y="852" textLength="53.5" lengthAdjust="spacingAndGlyphs">25 Oct 16:00</text>
<rect x="453" y="840" width="1" height="3"/>
<text x="452" y="852" textLength="53.5" lengthAdjust="spacingAndGlyphs">26 Oct 08:00</text>
<rect x="517" y="840" width="1" height="3"/>
<text x="516" y="852" textLength="53.5" lengthAdjust="spacingAndGlyphs">27 Oct 00:00</text>
<rect x="581" y="840" width="1" height="3"/>
<text x="580" y="852" textLength="53.5" lengthAdjust="spacingAndGlyphs">27 Oct 16:00</text>
<rect x="645" y="840" width="1" height="3"/>
<text x="644" y="852" textLength="53.5" lengthAdjust="spacingAndGlyphs">28 Oct 08:00</text>
<rect x="709" y="840" width="1" height="3"/>
<text x="708" y="852" textLength="53.5" lengthAdjust="spacingAndGlyphs">31 Oct 00:00</text>
<rect x="773" y="840" width="1" height="3"/>
<text x="772" y="852" textLength="53.5" lengthAdjust="spacingAndGlyphs">31 Oct 16:00</text>
<rect x="837" y="840" width="1" height="3"/>
<text x="836" y="852" textLength="50.4" lengthAdjust="spacingAndGlyphs">1 Nov 08:00</text>
<rect x="901" y="840" width="1" height="3"/>
<text x="900" y="852" textLength="50.4" lengthAdjust="spacingAndGlyphs">2 Nov 00:00</text>
<rect x="965" y="840" width="1" height="3"/>
<text x="964" y="852" textLength="50.4" lengthAdjust="spacingAndGlyphs">2 Nov 16:00</text>
<rect x="1029" y="840" width="1" height="3"/>
<text x="1028" y="852" textLength="50.4" lengthAdjust="spacingAndGlyphs">3 Nov 08:00</text>
<rect x="1093" y="840" width="1" height="3"/>
<text x="1092" y="852" textLength="50.4" lengthAdjust="spacingAndGlyphs">4 Nov 00:00</text>
<rect x="1157" y="840" width="1" height="3"/>
<text x="1156" y="852" textLength="50.4" lengthAdjust="spacingAndGlyphs">4 Nov 16:00</text>
<rect x="1221" y="840" width="1" height="3"/>
<text x="1220" y="852" textLength="50.4" lengthAdjust="spacingAndGlyphs">7 Nov 08:00</text>
<rect x="1285" y="840" width="1" height="3"/>
<text x="1284" y="852" textLength="50.4" lengthAdjust="spacingAndGlyphs">8 Nov 00:00</text>
<rect x="1349" y="840" width="1" height="3"/>
<text x="1348" y="852" textLength="50.4" lengthAdjust="spacingAndGlyphs">8 Nov 16:00</text>
</g>
</svg>
<svg width="1689" height="22" viewBox="0 0 1689 22" style="position:absolute;left:0;top:0">
<defs>
<pattern id="chk" width="2" height="2" patternUnits="userSpaceOnUse"><rect width="2" height="2" fill="#f6f6f6"/><rect width="1" height="1" fill="#fdfdfd"/><rect x="1" y="1" width="1" height="1" fill="#fdfdfd"/></pattern>
<linearGradient id="gplus" x1="0" y1="0" x2="0" y2="1"><stop offset="0" stop-color="#7dff7d"/><stop offset="1" stop-color="#00c000"/></linearGradient>
</defs>
<rect width="1689" height="22" fill="#f0f0f0"/>
<rect y="19" width="1689" height="1" fill="#f8f8f8"/>
<rect y="20" width="1689" height="1" fill="#a4a4a4"/>
<rect y="21" width="1689" height="1" fill="#6a6a6a"/>
<rect x="0" y="21" width="1" height="1" fill="#acacac"/>
<!-- pressed bgs -->
<rect x="277" y="0" width="25" height="18" fill="url(#chk)"/>
<rect x="429" y="0" width="24" height="18" fill="url(#chk)"/>
<rect x="457" y="0" width="24" height="18" fill="url(#chk)"/>
<rect x="617" y="0" width="25" height="18" fill="url(#chk)"/>
<rect x="1063" y="0" width="24" height="18" fill="url(#chk)"/>
<!-- separators -->
<rect x="2" y="0" width="1" height="18" fill="#a0a0a0"/>
<g transform="translate(237,0)"><rect width="1" height="18" fill="#a8a8a8"/><rect x="1" width="1" height="18" fill="#ffffff"/></g>
<g transform="translate(242,0)"><path d="M0 1.5h3M0 3.5h3M0 5.5h3M0 7.5h3M0 9.5h3M0 11.5h3M0 13.5h3M0 15.5h3" stroke="#b0b0b0" stroke-width="1"/></g>
<g transform="translate(276,0)"><rect width="1" height="18" fill="#a8a8a8"/><rect x="1" width="1" height="18" fill="#ffffff"/></g>
<g transform="translate(333,0)"><rect width="1" height="18" fill="#a8a8a8"/><rect x="1" width="1" height="18" fill="#ffffff"/></g>
<g transform="translate(423,0)"><rect width="1" height="18" fill="#a8a8a8"/><rect x="1" width="1" height="18" fill="#ffffff"/></g>
<g transform="translate(428,0)"><rect width="1" height="18" fill="#a8a8a8"/><rect x="1" width="1" height="18" fill="#ffffff"/></g>
<g transform="translate(456,0)"><rect width="1" height="18" fill="#a8a8a8"/><rect x="1" width="1" height="18" fill="#ffffff"/></g>
<g transform="translate(485,0)"><rect width="1" height="18" fill="#a8a8a8"/><rect x="1" width="1" height="18" fill="#ffffff"/></g>
<g transform="translate(606,0)"><rect width="1" height="18" fill="#a8a8a8"/><rect x="1" width="1" height="18" fill="#ffffff"/></g>
<g transform="translate(610,0)"><path d="M0 1.5h3M0 3.5h3M0 5.5h3M0 7.5h3M0 9.5h3M0 11.5h3M0 13.5h3M0 15.5h3" stroke="#b0b0b0" stroke-width="1"/></g>
<g transform="translate(616,0)"><rect width="1" height="18" fill="#a8a8a8"/><rect x="1" width="1" height="18" fill="#ffffff"/></g>
<g transform="translate(673,0)"><rect width="1" height="18" fill="#a8a8a8"/><rect x="1" width="1" height="18" fill="#ffffff"/></g>
<g transform="translate(912,0)"><rect width="1" height="18" fill="#a8a8a8"/><rect x="1" width="1" height="18" fill="#ffffff"/></g>
<g transform="translate(916,0)"><path d="M0 1.5h3M0 3.5h3M0 5.5h3M0 7.5h3M0 9.5h3M0 11.5h3M0 13.5h3M0 15.5h3" stroke="#b0b0b0" stroke-width="1"/></g>
<g transform="translate(1062,0)"><rect width="1" height="18" fill="#a8a8a8"/><rect x="1" width="1" height="18" fill="#ffffff"/></g>
<g transform="translate(1173,0)"><rect width="1" height="18" fill="#a8a8a8"/><rect x="1" width="1" height="18" fill="#ffffff"/></g>

<!-- new order icon -->
<g>
<path d="M12.5 0.5 H20.5 L23.5 3.5 V13.5 H12.5Z" fill="#fff" stroke="#8a8a8a"/>
<path d="M20.5 0.5 V3.5 H23.5" fill="#d0d0d0" stroke="#8a8a8a"/>
<path d="M14 3h2.5M14 6.5h6.5M14 8.5h5M14 10.5h4" stroke="#909090" stroke-width="0.9"/>
<path d="M20 6.5h4v3.5h4v4h-4v3.8h-4v-3.8h-4v-4h4z" fill="url(#gplus)" stroke="#008000" stroke-width="0.9"/>
</g>
<!-- 新订单 -->
<g stroke="#000" stroke-width="1" fill="none">
<path d="M34.2 0.8V2.2M31 2.5H37.5M33 3.6l.3 1.3M36.2 3.6l-.3 1.3M31 5.5H37.5M31 7.5H37.3M34.5 5.5V11.8M34.2 8.4l-2.6 3.2M34.9 8.4l2.3 2M41.9 1.2l-3.4 1.5V9.5l-.7 2.2M38.5 5.5H42M40.5 5.5V11.8"/>
<path d="M44.3 1l1.8 2.4M43.3 5.5H45.3V10.6l2.2-2M47.4 2.5H55M51.2 2.5V11.4H48.6"/>
<path d="M58.6 0.9l1 1.5M63.2 0.9l-1 1.5M56.5 2.5H65.5V7.5H56.5ZM56.5 5.5H65.5M55.2 9.5H67M61.1 2.5V12"/>
</g>
<!-- gold book -->
<defs><linearGradient id="gbook" x1="0" y1="0" x2="1" y2="1"><stop offset="0" stop-color="#f8e070"/><stop offset="0.5" stop-color="#e8b818"/><stop offset="1" stop-color="#f0d060"/></linearGradient></defs>
<path d="M84.6 1.3 Q82.8 5.5 79.2 9.8 L86.7 15.3 L94.3 8.6 Z" fill="url(#gbook)" stroke="#a86810" stroke-width="0.9"/>
<path d="M80.3 10.6 L86.8 14.8" stroke="#f8e8a0" stroke-width="1" opacity="0.8"/>
<path d="M93.8 9.6 L87.2 15.3" stroke="#e8e0b0" stroke-width="1"/>
<!-- blue server + cloud -->
<rect x="109" y="0" width="11" height="9" fill="#1890f0"/>
<rect x="109" y="0" width="3.3" height="9" fill="#0878e0"/>
<path d="M112.6 3.2V9 M109.5 1 L112.6 3.2 H120" stroke="#ffffff" stroke-width="0.9" fill="none"/>
<path d="M114.2 5.3h4.6" stroke="#ffffff" stroke-width="1.1"/>
<path d="M107.8 15.3 Q106.3 12.5 109 11.2 Q109.5 9.8 111.5 10.2 Q113 8.3 115.5 8.7 Q117.5 8.8 118.3 10.3 Q121.8 10 122.6 12.5 Q123 15.3 120.5 15.3Z" fill="#e8ecf4" stroke="#4a6098" stroke-width="0.9"/>
<path d="M108.5 14.2h13" stroke="#c8d0e0" stroke-width="1"/>
<!-- radio -->
<defs><linearGradient id="grad_r" x1="0" y1="0" x2="1" y2="0"><stop offset="0" stop-color="#3060d0"/><stop offset="0.5" stop-color="#b8d0e8"/><stop offset="1" stop-color="#309040"/></linearGradient></defs>
<circle cx="142.8" cy="7.8" r="7.3" fill="none" stroke="url(#grad_r)" stroke-width="1.1" opacity="0.85"/>
<circle cx="142.8" cy="7.8" r="4.3" fill="none" stroke="url(#grad_r)" stroke-width="1.1" opacity="0.85"/>
<path d="M143.3 8 V15.5 Q148 15 150 10.5" stroke="#20a020" stroke-width="1.2" fill="none"/>
<circle cx="142.8" cy="7.8" r="1.7" fill="#2050c0"/>
<!-- auto trading -->
<path d="M162.5 6.5 L177.5 6.5 L169.7 15.6Z" fill="#f0d040" stroke="#c0a020" stroke-width="0.7"/>
<ellipse cx="169.7" cy="4.5" rx="7.8" ry="2.6" fill="#58b0e8" stroke="#3080c0" stroke-width="0.7"/>
<ellipse cx="169.7" cy="2.5" rx="3" ry="2.5" fill="#60b8f0"/>
<circle cx="174.2" cy="11.7" r="4.3" fill="#e02020" stroke="#b01010" stroke-width="0.6"/>
<rect x="172.4" y="9.9" width="3.6" height="3.6" fill="#fff"/>
<!-- 自动交易 -->
<g stroke="#000" stroke-width="1" fill="none">
<path d="M188.3 0.5l-.6 1.6M184.5 2.5H193.5V11.5H184.5ZM184.5 5.5H193.5M184.5 8.5H193.5"/>
<path d="M196.4 2.5H200.6M195.5 5.3H201.6M198.2 5.8l-1.9 4.6 4.2-.7M199.6 8l1.3 2.8M201.4 4.4H205.8V11.3H203.6M203.5 1.2V6l-2.3 5"/>
<path d="M212.6 0.6V2M207.4 3.4H218.8M209.7 5.3l-1.5 1.9M215.5 5.3l1.8 1.9M210 8.2l8.2 3.6M215.6 8.2l-8.2 3.6"/>
<path d="M220.5 1.5H228.5V6.5H220.5ZM220.5 3.5H228.5M221.2 6.8l-1.8 1.8M220.6 7.8H229V11.3l-1.2-.4M222.8 8.3l-2.4 3M225.6 8.3l-2.3 3.1M227.6 8.3l-2 3.1"/>
</g>
<!-- bar chart icon -->
<g transform="translate(254,0)"><path d="M2.5 2 V15.5 M0 13.5 H13.5" stroke="#505050" stroke-width="1.4" fill="none"/><path d="M0.5 4.5 L2.5 1.5 L4.5 4.5Z M11 11.5 L14 13.5 L11 15.5Z" fill="#505050"/></g>
<path d="M262.5 3v8.6M262.5 4.5h2.5M262.5 10.4h-2.3" stroke="#008000" stroke-width="1.3" fill="none"/>
<!-- candle icon -->
<g transform="translate(282,0)"><path d="M2.5 2 V15.5 M0 13.5 H13.5" stroke="#505050" stroke-width="1.4" fill="none"/><path d="M0.5 4.5 L2.5 1.5 L4.5 4.5Z M11 11.5 L14 13.5 L11 15.5Z" fill="#505050"/></g>
<path d="M290.5 0v11.6" stroke="#008000" stroke-width="1.2"/>
<rect x="288.5" y="2.3" width="4.2" height="7.7" fill="#40e040" stroke="#008000" stroke-width="1"/>
<!-- line icon -->
<g transform="translate(310,0)"><path d="M2.5 2 V15.5 M0 13.5 H13.5" stroke="#505050" stroke-width="1.4" fill="none"/><path d="M0.5 4.5 L2.5 1.5 L4.5 4.5Z M11 11.5 L14 13.5 L11 15.5Z" fill="#505050"/></g>
<path d="M311 10.7 Q314.5 5 317.3 5.2 Q319.5 5.5 322.5 9" stroke="#289028" stroke-width="1.2" fill="none"/>
<!-- zoom in / out -->
<g>
<path d="M352 10 L357 15" stroke="#c8a020" stroke-width="2.6" stroke-linecap="round"/>
<circle cx="348" cy="6" r="4.8" fill="#d8ecff" stroke="#3a80d0" stroke-width="1.3"/>
<path d="M345.5 6h5M348 3.5v5" stroke="#3a70c0" stroke-width="1.5"/>
</g>
<g>
<path d="M380 10 L385 15" stroke="#c8a020" stroke-width="2.6" stroke-linecap="round"/>
<circle cx="376" cy="6" r="4.8" fill="#d8ecff" stroke="#3a80d0" stroke-width="1.3"/>
<path d="M373.5 6h5" stroke="#3a70c0" stroke-width="1.5"/>
</g>
<!-- tile -->
<rect x="398" y="0" width="7.5" height="7.5" fill="#30a030"/>
<rect x="406" y="0" width="7.5" height="7.5" fill="#2060d0"/>
<rect x="398" y="8" width="7.5" height="7.5" fill="#2060d0"/>
<rect x="406" y="8" width="7.5" height="7.5" fill="#30a030"/>
<path d="M399.5 4.5h4.5M407.5 4.5h4.5M399.5 12.5h4.5M407.5 12.5h4.5" stroke="#fff" stroke-width="1.2"/>
<!-- auto scroll -->
<g transform="translate(434,0)"><path d="M2.5 2 V15.5 M0 13.5 H13.5" stroke="#505050" stroke-width="1.4" fill="none"/><path d="M0.5 4.5 L2.5 1.5 L4.5 4.5Z M11 11.5 L14 13.5 L11 15.5Z" fill="#505050"/></g>
<path d="M441.5 4 L445.5 7 L441.5 10Z" fill="#40c040" stroke="#008000" stroke-width="0.8"/>
<!-- chart shift -->
<g transform="translate(462,0)"><path d="M2.5 2 V15.5 M0 13.5 H13.5" stroke="#505050" stroke-width="1.4" fill="none"/><path d="M0.5 4.5 L2.5 1.5 L4.5 4.5Z M11 11.5 L14 13.5 L11 15.5Z" fill="#505050"/></g>
<path d="M468.5 2v10" stroke="#2060c0" stroke-width="1.2"/>
<path d="M469.5 7.5h4M470 7.5l2-2M470 7.5l2 2" stroke="#e04010" stroke-width="1.2"/>
<!-- new chart -->
<path d="M495.5 0.8 H504 L506.5 3.3 V13.5 H495.5Z" fill="#fff" stroke="#8a8a8a"/>
<path d="M498 3 Q497.3 3 497.3 4.5 V10" stroke="#505030" stroke-width="0.8" fill="none"/>
<path d="M502.8 6.4h4.2v3.6h4v3.6h-4v4.2h-4.2v-4.2h-3.6v-3.6h3.6z" fill="url(#gplus)" stroke="#008000" stroke-width="0.9"/>
<g transform="translate(517,7)"><path d="M0 0 H6 L3 3Z" fill="#000"/></g>
<!-- clock -->
<circle cx="540.8" cy="7.8" r="7.8" fill="#1a70d8"/>
<circle cx="540.8" cy="7.8" r="5.6" fill="#f4f8ff"/>
<path d="M540.3 4v4h3.2" stroke="#303030" stroke-width="1" fill="none"/>
<g transform="translate(556,7)"><path d="M0 0 H6 L3 3Z" fill="#000"/></g>
<!-- indicators -->
<rect x="572.5" y="1.5" width="15" height="13" fill="#fff" stroke="#3a70c0" stroke-width="1"/>
<rect x="572.5" y="1.5" width="15" height="2" fill="#3a70c0"/>
<path d="M575 6.5l2 -1 2 1 2-1 2 1 2-1.5" stroke="#b03010" stroke-width="0.9" fill="none"/>
<path d="M573 8.5h14" stroke="#3a70c0" stroke-width="0.7"/>
<path d="M575 12l2-1.5 2 1 2-1.5 2 1 2-1.5" stroke="#20a020" stroke-width="0.9" fill="none"/>
<g transform="translate(595,7)"><path d="M0 0 H6 L3 3Z" fill="#000"/></g>
<!-- cursor -->
<path d="M624 1.5 V12.5 L626.5 10 L629 14.8 L631 13.8 L628.7 9.3 L632.5 9.3Z" fill="#404040"/>
<!-- crosshair -->
<path d="M649 8.5h5.5M658.5 8.5h5.5M656.5 1v5.5M656.5 10.5v6" stroke="#505050" stroke-width="1.1"/>
<!-- vertical / horizontal / trend -->
<path d="M690.5 2.4v12.4" stroke="#505050" stroke-width="1.3"/>
<path d="M713 8.5h12" stroke="#505050" stroke-width="1.3"/>
<path d="M741 14.8L753 3" stroke="#505050" stroke-width="1.2"/>
<!-- channel -->
<path d="M767 9.5 L781 -0.5 M769.5 14.5 L782 5.5" stroke="#484848" stroke-width="1.1" fill="none"/>
<path d="M770.5 13 L769 8.5 M773 11.3 L771.6 6.8 M775.6 9.5 L774.2 5 M778.2 7.7 L776.8 3.2 M780.2 5.5 L779.2 0.8" stroke="#484848" stroke-width="1" fill="none"/>
<text x="777.6" y="16.9" font-family="Liberation Sans, sans-serif" font-size="7.6" font-weight="bold" fill="#484848">E</text>
<!-- fibo -->
<path d="M796 1.5h13M796 4.5h13M796 8.5h13M796 12.5h8" stroke="#585858" stroke-width="1" stroke-dasharray="1,1" fill="none" shape-rendering="crispEdges"/>
<text x="805.5" y="16.9" font-family="Liberation Sans, sans-serif" font-size="7.6" font-weight="bold" fill="#484848">F</text>
<!-- A -->
<text x="826.6" y="12.9" font-family="Liberation Sans, sans-serif" font-size="12" font-weight="bold" fill="#505050">A</text>
<!-- T -->
<rect x="853.5" y="1.5" width="11" height="13" fill="none" stroke="#606060" stroke-width="1" stroke-dasharray="1,1" shape-rendering="crispEdges"/>
<rect x="852.5" y="0.8" width="2" height="2" fill="#505050"/>
<path d="M855.5 5.2h7.5M859.2 5.2v7.3" stroke="#505050" stroke-width="1.6" fill="none"/>
<!-- arrows -->
<path d="M883.4 1.3 L886.3 4 L883.4 6.7 L880.5 4Z M890.5 8.8 L893.5 11.8 L890.5 14.8 L887.5 11.8Z" fill="#404040"/>
<path d="M882.3 8.2l2.8 3 3.3-4.2" stroke="#404040" stroke-width="1.4" fill="none"/>
<g transform="translate(901,7)"><path d="M0 0 H6 L3 3Z" fill="#000"/></g>
<!-- timeframes -->
<g font-family="Liberation Sans, sans-serif" font-size="9.8" fill="#383838">
<text x="927" y="12">M1</text>
<text x="955.5" y="12">M5</text>
<text x="981.5" y="12">M15</text>
<text x="1009.3" y="12">M30</text>
<text x="1040" y="12">H1</text>
<text x="1067.5" y="12">H4</text>
<text x="1096.5" y="12">D1</text>
<text x="1123.5" y="12">W1</text>
<text x="1150.3" y="12">MN</text>
</g>
<!-- search -->
<circle cx="1643.6" cy="5.4" r="3.6" fill="#f4f4ff" stroke="#2a60d0" stroke-width="1.2"/>
<path d="M1641 8 L1636.8 12.3" stroke="#2a60d0" stroke-width="2" stroke-linecap="round"/>
<!-- chat + badge -->
<path d="M1660.5 11 Q1660.5 5.5 1666 5.5 Q1671.5 5.5 1671.5 11 Q1671.5 14.5 1666 14.5 L1664 16.5 L1664 14.3 Q1660.5 13.5 1660.5 11Z" fill="#e6e6ee" stroke="#a0a0a0" stroke-width="0.8"/>
<circle cx="1674.5" cy="5.6" r="8" fill="#e03010"/>
<text x="1671" y="10.3" font-family="Liberation Sans, sans-serif" font-size="12.5" font-weight="bold" fill="#fff">1</text>
</svg>

</body></html>
